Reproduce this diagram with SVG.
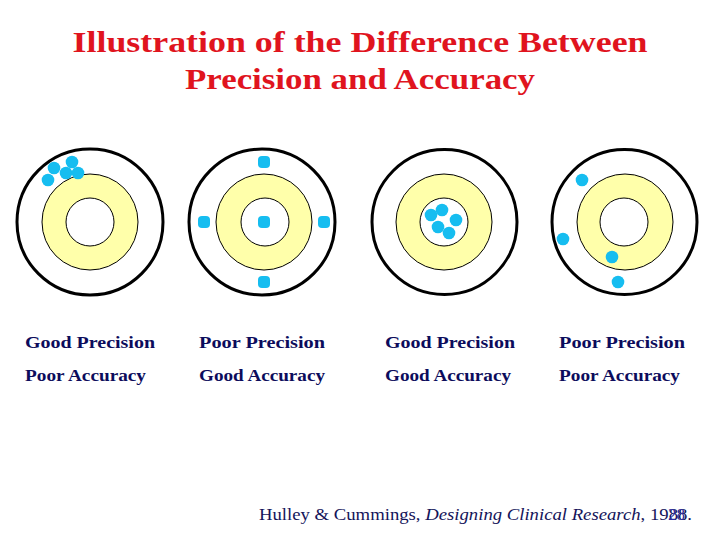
<svg xmlns="http://www.w3.org/2000/svg" width="720" height="540" viewBox="0 0 720 540">
<style>
.outer{fill:#fff;stroke:#000;stroke-width:3}
.ring{fill:#ffffaa;stroke:#000;stroke-width:1}
.bull{fill:#fff;stroke:#000;stroke-width:1}
.dot{fill:#16bdf0}
.title{font-family:"Liberation Serif","DejaVu Serif",serif;font-weight:bold;font-size:30px;fill:#e0141e;text-anchor:middle}
.lbl{font-family:"Liberation Serif","DejaVu Serif",serif;font-weight:bold;font-size:16.5px;fill:#0c0c5c}
.cite{font-family:"Liberation Serif","DejaVu Serif",serif;font-size:17px;fill:#14145a}
</style>
<rect width="720" height="540" fill="#fff"/>
<g id="title">
<text class="title" x="360" y="52" textLength="575" lengthAdjust="spacingAndGlyphs">Illustration of the Difference Between</text>
<text class="title" x="360" y="89" textLength="350" lengthAdjust="spacingAndGlyphs">Precision and Accuracy</text>
</g>
<g id="target1">
<circle class="outer" cx="90" cy="222" r="73"/>
<circle class="ring" cx="90" cy="222" r="48"/>
<circle class="bull" cx="90" cy="222" r="24"/>
<circle class="dot" cx="54" cy="168" r="6.3"/>
<circle class="dot" cx="72" cy="162" r="6.3"/>
<circle class="dot" cx="48" cy="180" r="6.3"/>
<circle class="dot" cx="66" cy="173" r="6.3"/>
<circle class="dot" cx="78" cy="173" r="6.3"/>
</g>
<g id="target2">
<circle class="outer" cx="262" cy="222" r="73"/>
<circle class="ring" cx="264" cy="222" r="48"/>
<circle class="bull" cx="265" cy="222" r="24"/>
<rect class="dot" x="258" y="216" width="12" height="12" rx="4"/>
<rect class="dot" x="258" y="156" width="12" height="12" rx="4"/>
<rect class="dot" x="258" y="276" width="12" height="12" rx="4"/>
<rect class="dot" x="198" y="216" width="12" height="12" rx="4"/>
<rect class="dot" x="318" y="216" width="12" height="12" rx="4"/>
</g>
<g id="target3">
<circle class="outer" cx="444.5" cy="222" r="72.5"/>
<circle class="ring" cx="444" cy="222" r="48"/>
<circle class="bull" cx="444" cy="222" r="24"/>
<circle class="dot" cx="442" cy="210" r="6.3"/>
<circle class="dot" cx="431" cy="215" r="6.3"/>
<circle class="dot" cx="456" cy="220" r="6.3"/>
<circle class="dot" cx="438" cy="227" r="6.3"/>
<circle class="dot" cx="449" cy="233" r="6.3"/>
</g>
<g id="target4">
<circle class="outer" cx="624.5" cy="222" r="72.5"/>
<circle class="ring" cx="625" cy="222" r="48"/>
<circle class="bull" cx="624" cy="222" r="24"/>
<circle class="dot" cx="582" cy="180" r="6.3"/>
<circle class="dot" cx="563" cy="239" r="6.3"/>
<circle class="dot" cx="612" cy="257" r="6.3"/>
<circle class="dot" cx="618" cy="282" r="6.3"/>
</g>
<g id="labels">
<text class="lbl" x="25" y="348" textLength="130" lengthAdjust="spacingAndGlyphs">Good Precision</text>
<text class="lbl" x="25" y="381" textLength="121" lengthAdjust="spacingAndGlyphs">Poor Accuracy</text>
<text class="lbl" x="199" y="348" textLength="126" lengthAdjust="spacingAndGlyphs">Poor Precision</text>
<text class="lbl" x="199" y="381" textLength="126" lengthAdjust="spacingAndGlyphs">Good Accuracy</text>
<text class="lbl" x="385" y="348" textLength="130" lengthAdjust="spacingAndGlyphs">Good Precision</text>
<text class="lbl" x="385" y="381" textLength="126" lengthAdjust="spacingAndGlyphs">Good Accuracy</text>
<text class="lbl" x="559" y="348" textLength="126" lengthAdjust="spacingAndGlyphs">Poor Precision</text>
<text class="lbl" x="559" y="381" textLength="121" lengthAdjust="spacingAndGlyphs">Poor Accuracy</text>
</g>
<g id="citation">
<text class="cite" x="259" y="520" textLength="433" lengthAdjust="spacingAndGlyphs">Hulley &amp; Cummings, <tspan font-style="italic">Designing Clinical Research</tspan>, 1988.</text>
<text class="cite" x="668" y="520" style="fill:#2a2aa0">28</text>
</g>
</svg>
